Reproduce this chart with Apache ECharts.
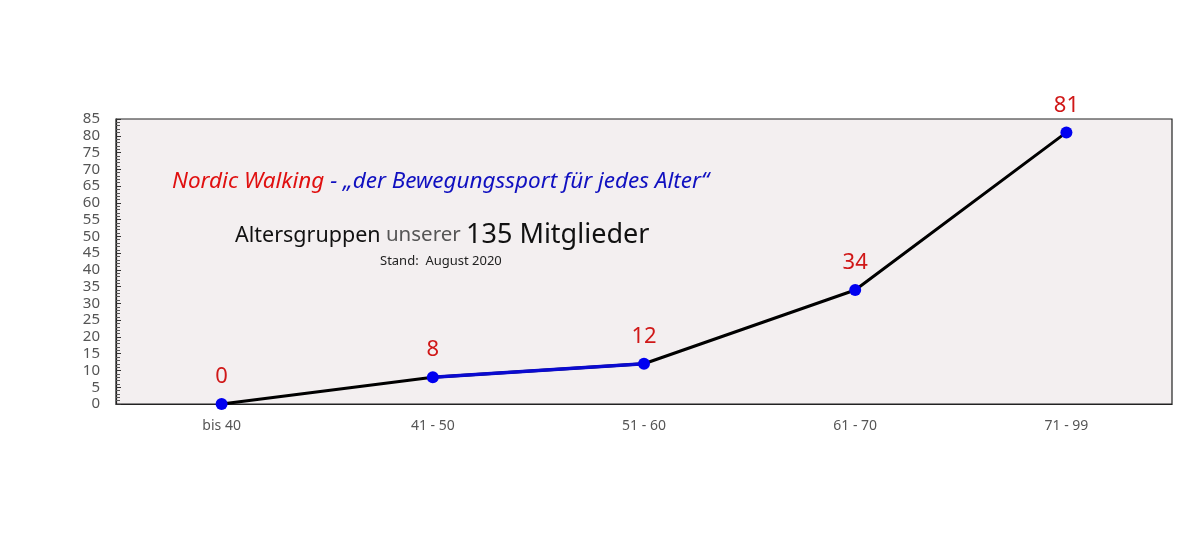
<!DOCTYPE html>
<html><head><meta charset="utf-8">
<script src="https://cdn.jsdelivr.net/npm/echarts@6/dist/echarts.min.js"></script>
<style>html,body{margin:0;padding:0;background:#fff}#c{width:1200px;height:559px}</style>
</head><body><div id="c"></div>
<script>
const categories = ['bis 40', '41 - 50', '51 - 60', '61 - 70', '71 - 99'];
const members = [0, 8, 12, 34, 81];
const highlight = ['-', 8, 12, '-', '-'];
const yMax = 85;
const yStep = 5;

const chart = echarts.init(document.getElementById('c'));
const font = 'Noto Sans';
chart.setOption({
  animation: false,
  grid: { left: 116, right: 28, top: 119, bottom: 155, show: true, backgroundColor: '#f3eff0', borderColor: '#222', borderWidth: 1.2 },
  xAxis: {
    type: 'category', data: categories, boundaryGap: true,
    axisLine: { lineStyle: { color: '#222', width: 1.2 } },
    axisTick: { inside: true, length: 6, lineStyle: { color: '#222' } },
    axisLabel: { color: '#555', fontSize: 14, fontFamily: font, margin: 15 }
  },
  yAxis: {
    type: 'value', min: 0, max: yMax, interval: yStep,
    splitLine: { show: false },
    axisLine: { show: true, lineStyle: { color: '#222', width: 1.2 } },
    axisTick: { show: true, inside: true, length: 5, lineStyle: { color: '#333' } },
    minorTick: { show: true, splitNumber: 5, length: 4, lineStyle: { color: '#555' } },
    axisLabel: { color: '#555', fontSize: 15, fontFamily: font, margin: 16, lineHeight: 14 }
  },
  series: [
    { type: 'line', data: members, showSymbol: false, lineStyle: { color: '#000', width: 3 }, z: 2 },
    { type: 'line', data: highlight, showSymbol: false, lineStyle: { color: '#0a0ad0', width: 3.6 }, z: 3 },
    { type: 'scatter', data: members, symbolSize: 12, itemStyle: { color: '#0000f0', opacity: 1 }, z: 4,
      label: { show: true, position: 'top', distance: 10, color: '#d01818', fontSize: 22, fontFamily: font } }
  ],
  graphic: [
    { type: 'text', left: 172, top: 170, z: 10, style: {
      text: '{r|Nordic Walking}{b| - „der Bewegungssport für jedes Alter“}',
      rich: {
        r: { fill: '#e01010', fontSize: 22.5, fontStyle: 'italic', fontFamily: font },
        b: { fill: '#1010c0', fontSize: 22.5, fontStyle: 'italic', fontFamily: font }
      } } },
    { type: 'text', left: 235, top: 222, z: 10, style: {
      text: '{a|Altersgruppen}{g| unserer }{m|135 Mitglieder}',
      rich: {
        a: { fill: '#111', fontSize: 21.5, fontFamily: font },
        g: { fill: '#555', fontSize: 20.5, fontFamily: font },
        m: { fill: '#111', fontSize: 27, fontFamily: font }
      } } },
    { type: 'text', left: 380, top: 255, z: 10, style: {
      text: 'Stand:  August 2020', fill: '#222', fontSize: 13, fontFamily: font } }
  ]
});
</script></body></html>
